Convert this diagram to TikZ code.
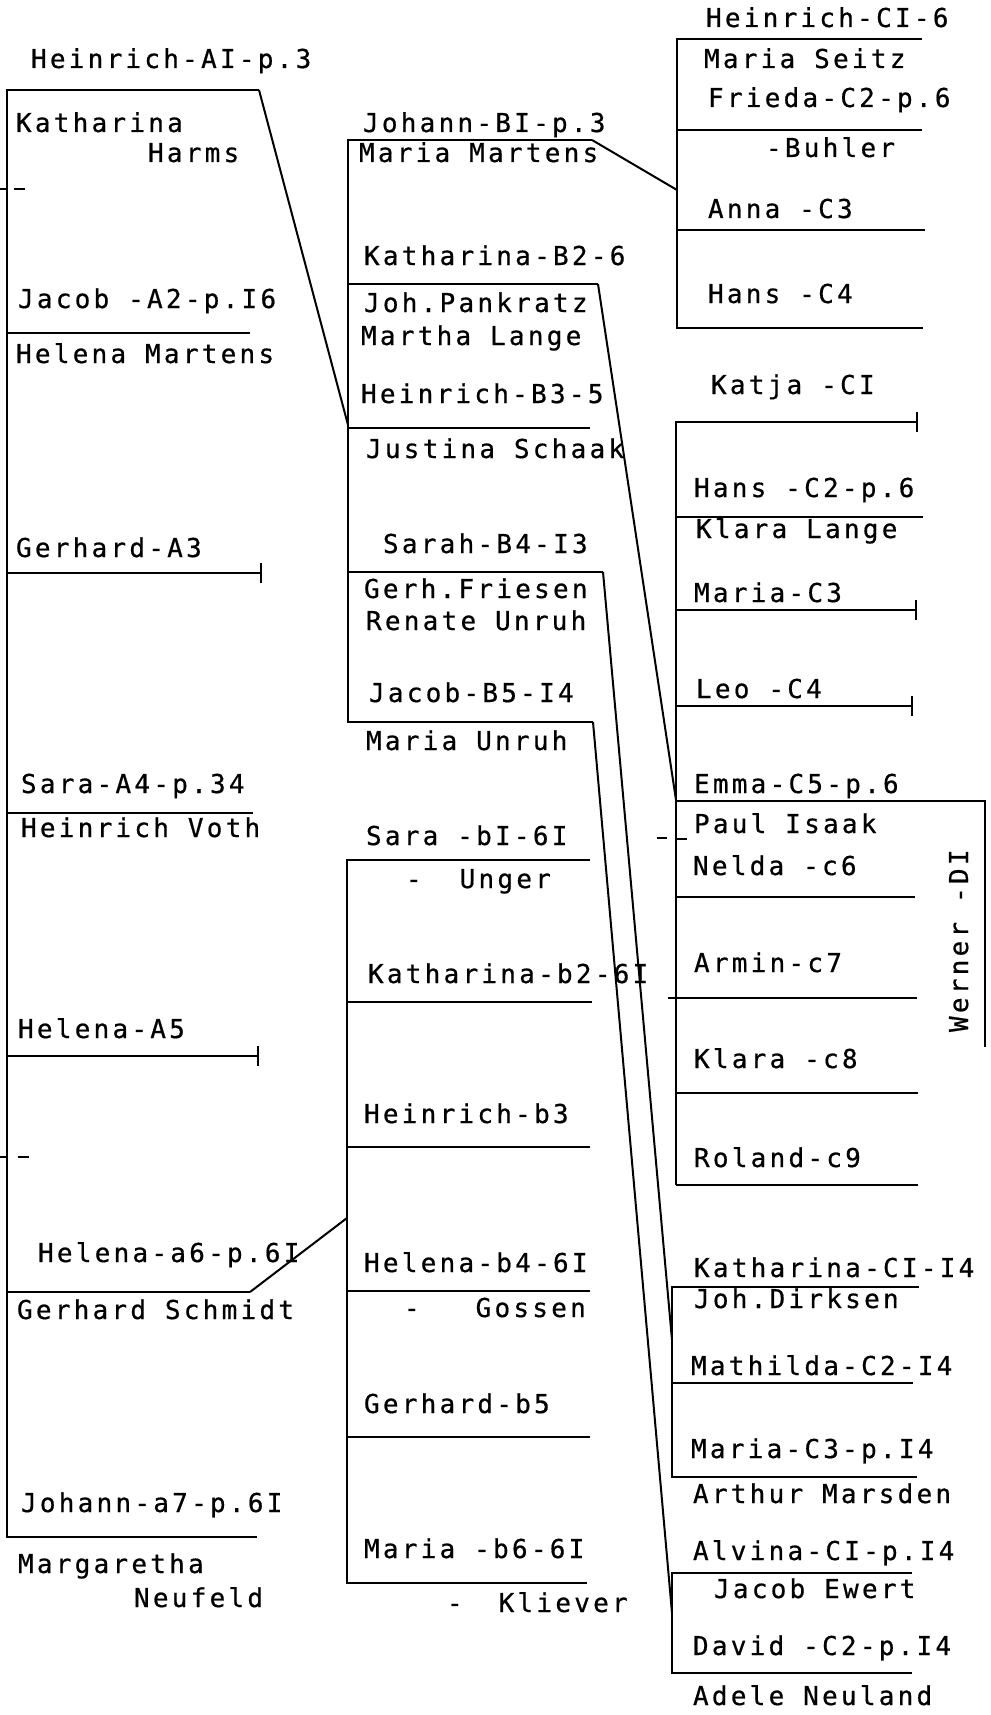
\documentclass[tikz,border=0pt]{standalone}
\usepackage{fontspec}
\newfontfamily\typefont[LetterSpace=12.5, FakeBold=0.6]{DejaVu Sans Mono}
\usetikzlibrary{arrows.meta}

\begin{document}
\begin{tikzpicture}[x=1pt, y=-1pt, line width=2pt,
		entry/.style={anchor=base west, inner sep=0pt, font=\typefont\fontsize{26}{30}\selectfont},
		barend/.style={-{Bar[width=20pt, line width=2pt]}}]
			\useasboundingbox (0,0) rectangle (990,1715);

			% first column
			\node[entry] (a1) at (30,68) {Heinrich-AI-p.3};
			\node[entry] (a1w) at (15,132) {Katharina};
			\node[entry] (a1x) at (147,162) {Harms};
			\node[entry] (a2) at (17,308) {Jacob -A2-p.I6};
			\node[entry] (a2w) at (15,363) {Helena Martens};
			\node[entry] (a3) at (15,557) {Gerhard-A3};
			\node[entry] (a4) at (20,793) {Sara-A4-p.34};
			\node[entry] (a4h) at (20,837) {Heinrich Voth};
			\node[entry] (a5) at (17,1038) {Helena-A5};
			\node[entry] (a6) at (37,1262) {Helena-a6-p.6I};
			\node[entry] (a6h) at (16,1319) {Gerhard Schmidt};
			\node[entry] (a7) at (20,1512) {Johann-a7-p.6I};
			\node[entry] (a7w) at (17,1573) {Margaretha};
			\node[entry] (a7x) at (133,1607) {Neufeld};

			% second column
			\node[entry] (b1) at (362,132) {Johann-BI-p.3};
			\node[entry] (b1w) at (358,162) {Maria Martens};
			\node[entry] (b2) at (363,265) {Katharina-B2-6};
			\node[entry] (b2h) at (363,312) {Joh.Pankratz};
			\node[entry] (b2x) at (360,345) {Martha Lange};
			\node[entry] (b3) at (360,403) {Heinrich-B3-5};
			\node[entry] (b3w) at (365,458) {Justina Schaak};
			\node[entry] (b4) at (382,553) {Sarah-B4-I3};
			\node[entry] (b4h) at (363,598) {Gerh.Friesen};
			\node[entry] (b4x) at (365,630) {Renate Unruh};
			\node[entry] (b5) at (368,702) {Jacob-B5-I4};
			\node[entry] (b5w) at (365,750) {Maria Unruh};
			\node[entry] (s1) at (365,845) {Sara -bI-6I};
			\node[entry] (s1h) at (405,888) {-\hspace{38pt}Unger};
			\node[entry] (s2) at (367,983) {Katharina-b2-6I};
			\node[entry] (s3) at (363,1123) {Heinrich-b3};
			\node[entry] (s4) at (363,1272) {Helena-b4-6I};
			\node[entry] (s4h) at (403,1317) {-\hspace{56pt}Gossen};
			\node[entry] (s5) at (363,1413) {Gerhard-b5};
			\node[entry] (s6) at (363,1558) {Maria -b6-6I};
			\node[entry] (s6h) at (446,1612) {-\hspace{36pt}Kliever};

			% third column
			\node[entry] (c1) at (705,27) {Heinrich-CI-6};
			\node[entry] (c1w) at (703,68) {Maria Seitz};
			\node[entry] (c2) at (707,107) {Frieda-C2-p.6};
			\node[entry] (c2h) at (765,157) {-Buhler};
			\node[entry] (c3) at (707,218) {Anna -C3};
			\node[entry] (c4) at (707,303) {Hans -C4};

			\node[entry] (k1) at (710,394) {Katja -CI};
			\node[entry] (k2) at (693,497) {Hans -C2-p.6};
			\node[entry] (k2w) at (695,538) {Klara Lange};
			\node[entry] (k3) at (693,602) {Maria-C3};
			\node[entry] (k4) at (695,698) {Leo -C4};
			\node[entry] (k5) at (693,793) {Emma-C5-p.6};
			\node[entry] (k5h) at (693,833) {Paul Isaak};
			\node[entry] (k6) at (692,875) {Nelda -c6};
			\node[entry] (k7) at (693,972) {Armin-c7};
			\node[entry] (k8) at (693,1068) {Klara -c8};
			\node[entry] (k9) at (693,1167) {Roland-c9};
			\node[entry, rotate=90] (d1) at (968,1033) {Werner -DI};

			\node[entry] (m1) at (693,1277) {Katharina-CI-I4};
			\node[entry] (m1h) at (693,1308) {Joh.Dirksen};
			\node[entry] (m2) at (690,1375) {Mathilda-C2-I4};
			\node[entry] (m3) at (690,1458) {Maria-C3-p.I4};
			\node[entry] (m3h) at (692,1503) {Arthur Marsden};
			\node[entry] (n1) at (692,1560) {Alvina-CI-p.I4};
			\node[entry] (n1h) at (713,1598) {Jacob Ewert};
			\node[entry] (n2) at (692,1655) {David -C2-p.I4};
			\node[entry] (n2w) at (692,1705) {Adele Neuland};

			% joints
			\coordinate (aend) at (259,90);
			\coordinate (a6end) at (250,1292);
			\coordinate (bjoin) at (348,425);
			\coordinate (sjoin) at (347,1218);
			\coordinate (b1end) at (592,140);
			\coordinate (b2end) at (598,284);
			\coordinate (b4end) at (603,572);
			\coordinate (b5end) at (593,722);
			\coordinate (cjoin) at (677,190);
			\coordinate (kjoin) at (676,800);
			\coordinate (mjoin) at (672,1340);
			\coordinate (njoin) at (672,1613);

			% brackets
			\draw (aend) -- (7,90) -- (7,1537) -- (257,1537);
			\draw (7,333) -- (250,333);
			\draw[barend] (7,573) -- (262,573);
			\draw (7,813) -- (253,813);
			\draw[barend] (7,1056) -- (259,1056);
			\draw (7,1292) -- (a6end);
			\draw (0,189) -- (7,189) (14,189) -- (25,189);
			\draw (0,1157) -- (8,1157) (18,1157) -- (29,1157);

			\draw (b1end) -- (348,140) -- (348,722) -- (b5end);
			\draw (348,284) -- (b2end);
			\draw (348,428) -- (590,428);
			\draw (348,572) -- (b4end);

			\draw (590,860) -- (347,860) -- (347,1583) -- (587,1583);
			\draw (347,1002) -- (592,1002);
			\draw (347,1147) -- (590,1147);
			\draw (347,1291) -- (590,1291);
			\draw (347,1437) -- (590,1437);

			\draw (922,39) -- (677,39) -- (677,328) -- (923,328);
			\draw (677,130) -- (922,130);
			\draw (677,230) -- (925,230);

			\draw[barend] (676,1185) -- (676,422) -- (918,422);
			\draw (676,517) -- (923,517);
			\draw[barend] (676,610) -- (917,610);
			\draw[barend] (676,706) -- (913,706);
			\draw (676,801) -- (985,801) -- (985,1047);
			\draw (676,897) -- (915,897);
			\draw (668,998) -- (917,998);
			\draw (676,1093) -- (918,1093);
			\draw (676,1185) -- (918,1185);
			\draw (657,838) -- (667,838) (676,839) -- (687,839);

			\draw (919,1287) -- (672,1287) -- (672,1477) -- (917,1477);
			\draw (672,1383) -- (913,1383);
			\draw (912,1573) -- (672,1573) -- (672,1673) -- (912,1673);

			% lines of descent
			\draw (aend) -- (bjoin);
			\draw (a6end) -- (sjoin);
			\draw (b1end) -- (cjoin);
			\draw (b2end) -- (kjoin);
			\draw (b4end) -- (mjoin);
			\draw (b5end) -- (njoin);
		\end{tikzpicture}
\end{document}
